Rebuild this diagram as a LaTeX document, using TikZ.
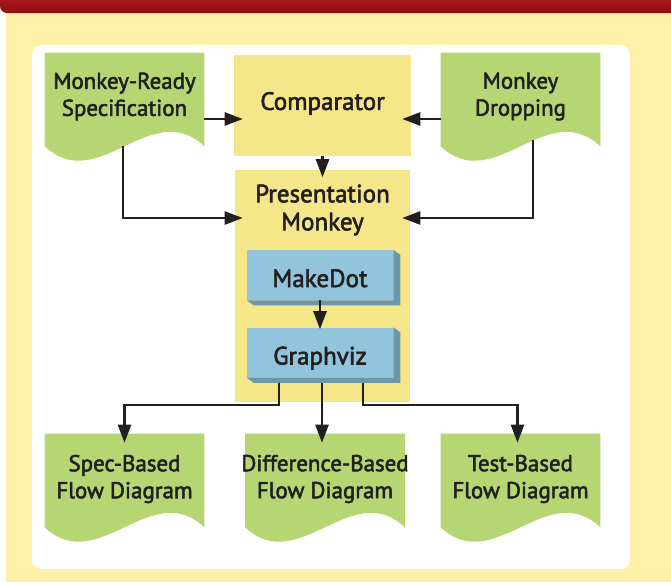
\documentclass[tikz,border=0pt]{standalone}
\usepackage{fontspec}
\setmainfont{PT Sans}[FakeBold=2.3]
\usetikzlibrary{arrows.meta,calc}
\definecolor{redbar}{HTML}{8E0D11}
\definecolor{redtop}{HTML}{A8171C}
\definecolor{bgyellow}{HTML}{FEF0A8}
\definecolor{boxyellow}{HTML}{F5E68A}
\definecolor{docgreen}{HTML}{B5D673}
\definecolor{boxblue}{HTML}{92C5DB}
\definecolor{boxside}{HTML}{6C97A8}
\definecolor{ink}{HTML}{231F20}
\newcommand\docfill[1]{%
  \fill[docgreen] (#1.north west) -- (#1.north east) -- (#1.south east)
    .. controls ($(#1.south east)+(-53,-50)$) and ($(#1.south west)+(53,50)$) .. (#1.south west) -- cycle;}
\newcommand\blockside[1]{%
  \fill[boxside] (#1.north east) -- ($(#1.north east)+(7,5)$) -- ($(#1.south east)+(7,5)$)
    -- ($(#1.south west)+(7,5)$) -- (#1.south west) -- (#1.south east) -- cycle;}
\begin{document}
\begin{tikzpicture}[x=0.75pt,y=-0.75pt,
  docbox/.style={minimum width=119.25pt,minimum height=69.75pt,inner sep=0pt,draw=none},
  doctext/.style={align=center,text=ink,font=\fontsize{17.2}{20.25}\selectfont,inner sep=0pt},
  ybox/.style={fill=boxyellow,inner sep=0pt,draw=none},
  ytext/.style={align=center,text=ink,font=\fontsize{18.8}{21}\selectfont,inner sep=0pt},
  bblock/.style={fill=boxblue,minimum width=109.5pt,minimum height=37.5pt,inner sep=0pt,text=ink,
    text height=18pt,text depth=0pt,font=\fontsize{18.8}{20}\selectfont},
  arr/.style={line width=1.7pt,draw=ink,-{Triangle[length=13.5pt,width=9.8pt]}},
  ln/.style={line width=1.7pt,draw=ink}]
\useasboundingbox (0,0) rectangle (671,582);
% background
\fill[bgyellow] (6,10) rectangle (671,582);
\shade[top color=redtop,bottom color=redbar] (0,0) -- (671,0) -- (671,13) -- (7,13)
  arc[start angle=270,end angle=180,radius=5.25pt] -- cycle;
\fill[white,rounded corners=7pt] (32,45) rectangle (630,569);
% yellow boxes
\node[ybox,minimum width=132.75pt,minimum height=75.75pt] (comp) at (322.5,105.5) {};
\node[ytext] (compt) at ($(comp.center)+(0,-2)$) {Comparator};
\node[ybox,minimum width=131.25pt,minimum height=174pt] (pm) at (322.5,285.5) {};
\node[ytext] (pmt) at (322.5,210) {Presentation\\Monkey};
% blue blocks
\node[bblock] (md) at (320,275) {MakeDot};
\blockside{md}
\node[bblock] (gv) at (320,352.5) {Graphviz};
\blockside{gv}
% documents
\node[docbox] (mrs) at (124.5,99.5) {};
\docfill{mrs}
\node[doctext] (mrst) at ($(mrs.center)+(0,-3)$) {Monkey-Ready\\Specification};
\node[docbox] (mdr) at (520.5,99.5) {};
\docfill{mdr}
\node[doctext] (mdrt) at ($(mdr.center)+(0,-3)$) {Monkey\\Dropping};
\node[docbox] (sfd) at (124.5,480.5) {};
\docfill{sfd}
\node[doctext] (sfdt) at ($(sfd.center)+(0,-1.5)$) {Spec-Based\\Flow Diagram};
\node[docbox] (dfd) at (325,480.5) {};
\docfill{dfd}
\node[doctext] (dfdt) at ($(dfd.center)+(0,-1.5)$) {Difference-Based\\Flow Diagram};
\node[docbox] (tfd) at (520.5,480.5) {};
\docfill{tfd}
\node[doctext] (tfdt) at ($(tfd.center)+(0,-1.5)$) {Test-Based\\Flow Diagram};
% connectors
\coordinate (yc) at (0,119);
\coordinate (yp) at (0,218);
\coordinate (yb) at (0,405);
\draw[arr] (mrs.east |- yc) -- ($(comp.west |- yc)+(9,0)$);
\draw[arr] (mdr.west |- yc) -- ($(comp.east |- yc)+(-9,0)$);
\draw[arr] (comp.south) -- ($(pm.north)+(0,8)$);
\draw[arr] ($(mrs.south)+(-1.5,0)$) |- ($(pm.west |- yp)+(8,0)$);
\draw[arr] ($(mdr.south)+(12.5,-6)$) |- ($(pm.east |- yp)+(-8,0)$);
\draw[arr] (md.south) -- ($(gv.north)+(0,2)$);
\draw[arr] ($(gv.south)+(-41,5)$) |- ($(sfd.north |- yb)$) -- ($(sfd.north)+(0,9)$);
\draw[arr] ($(gv.south)+(2,5)$) -- ($(dfd.north)+(-3,9)$);
\draw[arr] ($(gv.south)+(43,5)$) |- ($(tfd.north |- yb)+(-3,0)$) -- ($(tfd.north)+(-3,9)$);
\end{tikzpicture}
\end{document}
